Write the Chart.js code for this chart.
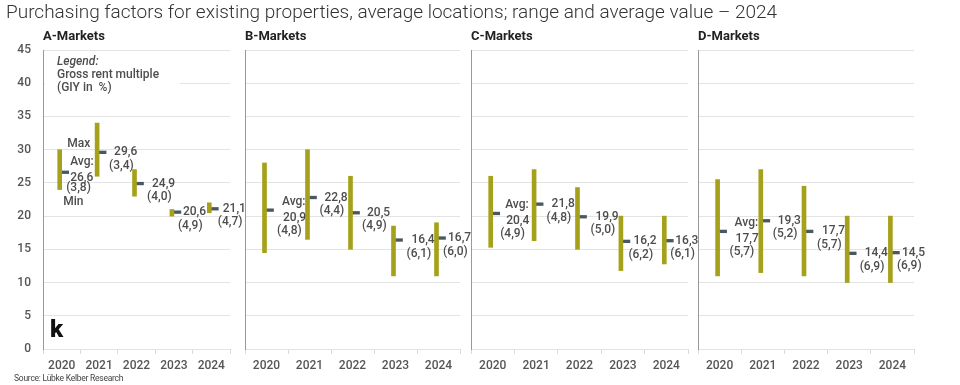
<!DOCTYPE html>
<html>
<head>
<meta charset="utf-8">
<script src="https://cdn.jsdelivr.net/npm/chart.js@4"></script>
<style>
  body { margin: 0; width: 960px; height: 385px; background: #fff; position: relative; overflow: hidden; font-family: Roboto, sans-serif; }
  canvas { position: absolute; top: 0; }
  .t { position: absolute; white-space: nowrap; }
</style>
</head>
<body>
<canvas id="chartA"></canvas>
<canvas id="chartB"></canvas>
<canvas id="chartC"></canvas>
<canvas id="chartD"></canvas>

<div class="t" style="left:6px;top:1px;font-size:19px;line-height:22px;font-weight:300;color:#333">Purchasing factors for existing properties, average locations; range and average value – 2024</div>
<div class="t" style="left:43px;top:28px;font-size:13px;line-height:16px;font-weight:700;color:#222">A-Markets</div>
<div class="t" style="left:245px;top:28px;font-size:13px;line-height:16px;font-weight:700;color:#222">B-Markets</div>
<div class="t" style="left:471px;top:28px;font-size:13px;line-height:16px;font-weight:700;color:#222">C-Markets</div>
<div class="t" style="left:698px;top:28px;font-size:13px;line-height:16px;font-weight:700;color:#222">D-Markets</div>
<div class="t" style="left:45px;top:55px;width:123px;padding-left:12px;background:#fff;font-size:12px;line-height:12.8px;font-weight:500;color:#4d4d4d">
  <i>Legend:</i><br>Gross rent multiple<br>(GIY in&nbsp; %)
</div>
<div class="t" style="left:50px;top:317px;font-size:24px;line-height:24px;font-weight:900;color:#111">k</div>
<div class="t" style="left:14px;top:373px;font-size:8.5px;line-height:11px;letter-spacing:-0.25px;color:#444">Source: Lübke Kelber Research</div>

<script>
// years on the x axis
var years = ['2020', '2021', '2022', '2023', '2024'];

// A-Markets
var aMin = [24, 26, 23, 20, 20.5];
var aMax = [30, 34, 27, 21, 22];
var aAvg = [26.6, 29.6, 24.9, 20.6, 21.1];
var aGiy = [3.8, 3.4, 4.0, 4.9, 4.7];

// B-Markets
var bMin = [14.5, 16.5, 15, 11, 11];
var bMax = [28, 30, 26, 18.5, 19];
var bAvg = [20.9, 22.8, 20.5, 16.4, 16.7];
var bGiy = [4.8, 4.4, 4.9, 6.1, 6.0];

// C-Markets
var cMin = [15.3, 16.3, 15, 11.8, 12.8];
var cMax = [26, 27, 24.3, 20, 20];
var cAvg = [20.4, 21.8, 19.9, 16.2, 16.3];
var cGiy = [4.9, 4.8, 5.0, 6.2, 6.1];

// D-Markets
var dMin = [11, 11.5, 11, 10, 10];
var dMax = [25.5, 27, 24.5, 20, 20];
var dAvg = [17.7, 19.3, 17.7, 14.4, 14.5];
var dGiy = [5.7, 5.2, 5.7, 6.9, 6.9];

var yTicks = { min: 0, max: 45, step: 5 };

function fmt(v) {
    return v.toFixed(1).replace('.', ',');
}

// label text for each average, drawn next to the marker
function avgLabels(avgs, giys, dx, withLegend) {
    return {
        id: 'avgLabels',
        afterDatasetsDraw: function (chart) {
            var ctx = chart.ctx;
            var xs = chart.scales.x;
            var ys = chart.scales.y;
            ctx.save();
            ctx.font = '500 12px Roboto';
            ctx.fillStyle = '#4d4d4d';
            ctx.textAlign = 'left';
            ctx.textBaseline = 'middle';
            avgs.forEach(function (v, i) {
                var c = xs.getPixelForValue(i);
                var y = ys.getPixelForValue(v);
                var g = '(' + fmt(giys[i]) + ')';
                if (i === 0 && withLegend) {
                    ctx.fillText('Max', c + 5.5, y - 28.5);
                    ctx.fillText('Avg:', c + 8.5, y - 10);
                    ctx.fillText(fmt(v), c + 8.5, y + 5.5);
                    ctx.fillText(g, c + 4.5, y + 16);
                    ctx.fillText('Min', c + 1.5, y + 29.5);
                } else if (i === 0) {
                    ctx.fillText('Avg:', c + dx[i], y - 8);
                    ctx.fillText(fmt(v), c + dx[i] + 1, y + 8);
                    ctx.fillText(g, c + dx[i] - 5, y + 21);
                } else {
                    ctx.fillText(fmt(v), c + dx[i], y);
                    ctx.fillText(g, c + dx[i] - 5, y + 13.5);
                }
            });
            ctx.restore();
        }
    };
}

function panel(id, left, width, axisW, mins, maxs, avgs, giys, dx, first) {
    var el = document.getElementById(id);
    el.width = width + 22;
    el.height = 385;
    el.style.left = left + 'px';
    return new Chart(el, {
        type: 'bar',
        data: {
            labels: years,
            datasets: [{
                data: mins.map(function (m, i) { return [m, maxs[i]]; }),
                backgroundColor: '#a5a11a',
                barThickness: 4
            }, {
                data: avgs.map(function (v) { return [v - 0.2, v + 0.2]; }),
                backgroundColor: '#4a5862',
                barThickness: 7
            }]
        },
        options: {
            responsive: false,
            animation: false,
            layout: { padding: { top: 50, left: 0, right: 22, bottom: 0 } },
            plugins: {
                legend: { display: false },
                tooltip: { enabled: false }
            },
            scales: {
                x: {
                    offset: true,
                    grid: { offset: true, drawOnChartArea: false, tickLength: 5, color: '#d9d9d9' },
                    border: { display: false },
                    ticks: { padding: 5, color: '#555', font: { family: 'Roboto', size: 12, weight: '500' } },
                    afterFit: function (s) { s.height = 36; }
                },
                y: {
                    min: yTicks.min,
                    max: yTicks.max,
                    ticks: {
                        stepSize: yTicks.step,
                        display: first,
                        padding: 12,
                        color: '#555',
                        font: { family: 'Roboto', size: 12, weight: '500' }
                    },
                    grid: { color: '#e3e3e3', drawTicks: false },
                    border: { color: '#999', width: 1 },
                    afterFit: function (s) { s.width = axisW; }
                }
            }
        },
        plugins: [avgLabels(avgs, giys, dx, first)]
    });
}

panel('chartA', 0, 230, 43, aMin, aMax, aAvg, aGiy, [0, 15, 15.5, 9, 11.5], true);
panel('chartB', 240, 220, 5, bMin, bMax, bAvg, bGiy, [15.5, 15, 14.5, 16, 9.5], false);
panel('chartC', 466, 222, 5, cMin, cMax, cAvg, cGiy, [12.5, 15.5, 16, 10.5, 9], false);
panel('chartD', 693, 221, 5, dMin, dMax, dAvg, dGiy, [15, 15, 16, 15.5, 9.5], false);
</script>
</body>
</html>
